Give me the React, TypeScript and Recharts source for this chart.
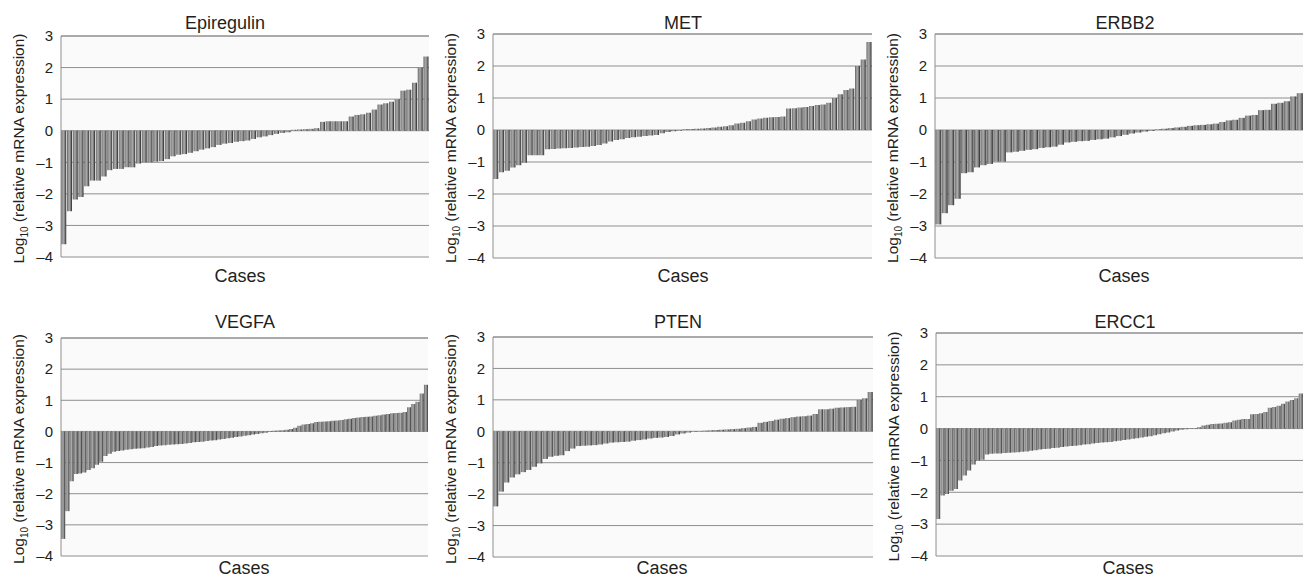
import React from 'react';
import { BarChart, Bar, XAxis, YAxis, CartesianGrid, ReferenceLine } from 'recharts';

// log10 relative mRNA expression per case, sorted low to high
const yTicks = [-4, -3, -2, -1, 0, 1, 2, 3];

const epiregulin = [
  -3.6, -2.55, -2.18, -2.1, -1.76, -1.58, -1.58, -1.45, -1.25, -1.21, -1.21, -1.16, -1.16, -1.04, -1.0, -1.0,
  -0.98, -0.96, -0.9, -0.81, -0.76, -0.74, -0.7, -0.65, -0.6, -0.56, -0.52, -0.45, -0.41, -0.39, -0.35, -0.33,
  -0.31, -0.26, -0.21, -0.18, -0.14, -0.1, -0.07, -0.05,
  0.03, 0.04, 0.05, 0.06, 0.08, 0.28, 0.3, 0.3, 0.3, 0.3, 0.45, 0.5, 0.52, 0.57, 0.67, 0.83, 0.87, 0.92, 1.0,
  1.27, 1.3, 1.52, 2.0, 2.35,
];

const met = [
  -1.53, -1.32, -1.27, -1.17, -1.1, -1.02, -0.79, -0.79, -0.79, -0.6, -0.59, -0.58, -0.57, -0.56, -0.55, -0.53,
  -0.52, -0.5, -0.47, -0.42, -0.36, -0.31, -0.29, -0.25, -0.23, -0.21, -0.19, -0.17, -0.16, -0.1, -0.06, -0.04,
  -0.02,
  0.02, 0.03, 0.04, 0.05, 0.06, 0.08, 0.1, 0.12, 0.15, 0.2, 0.23, 0.27, 0.33, 0.36, 0.38, 0.4, 0.41, 0.42, 0.67,
  0.68, 0.7, 0.72, 0.75, 0.78, 0.8, 0.85, 1.0, 1.12, 1.25, 1.3, 2.0, 2.2, 2.75,
];

const erbb2 = [
  -2.95, -2.6, -2.35, -2.15, -1.35, -1.32, -1.17, -1.1, -1.06, -0.99, -0.99, -0.7, -0.68, -0.65, -0.62, -0.6,
  -0.56, -0.54, -0.52, -0.46, -0.39, -0.37, -0.35, -0.34, -0.31, -0.29, -0.27, -0.23, -0.19, -0.15, -0.11, -0.08,
  -0.05, -0.03,
  0.02, 0.04, 0.06, 0.08, 0.1, 0.13, 0.15, 0.16, 0.18, 0.2, 0.25, 0.3, 0.32, 0.38, 0.45, 0.47, 0.62, 0.63, 0.82,
  0.85, 0.9, 1.05, 1.15,
];

const vegfa = [
  -3.45, -2.56, -1.6, -1.37, -1.35, -1.32, -1.24, -1.18, -1.07, -0.97, -0.79, -0.72, -0.65, -0.63, -0.61, -0.59,
  -0.57, -0.56, -0.55, -0.54, -0.52, -0.5, -0.47, -0.45, -0.44, -0.43, -0.42, -0.41, -0.4, -0.39, -0.37, -0.35,
  -0.34, -0.33, -0.31, -0.29, -0.28, -0.26, -0.24, -0.22, -0.2, -0.18, -0.16, -0.14, -0.12, -0.1, -0.08, -0.06,
  -0.04, -0.02,
  0.02, 0.03, 0.04, 0.05, 0.08, 0.12, 0.18, 0.22, 0.24, 0.26, 0.3, 0.31, 0.32, 0.33, 0.34, 0.35, 0.37, 0.39, 0.41,
  0.43, 0.45, 0.46, 0.47, 0.48, 0.5, 0.52, 0.54, 0.56, 0.58, 0.59, 0.6, 0.62, 0.78, 0.88, 0.95, 1.22, 1.5,
];

const pten = [
  -2.39, -1.92, -1.63, -1.47, -1.37, -1.3, -1.23, -1.13, -1.02, -0.88, -0.81, -0.78, -0.76, -0.63, -0.55, -0.47,
  -0.46, -0.45, -0.44, -0.42, -0.39, -0.36, -0.35, -0.34, -0.33, -0.3, -0.28, -0.26, -0.23, -0.21, -0.2, -0.18,
  -0.15, -0.1, -0.07, -0.04, -0.02,
  0.01, 0.02, 0.03, 0.04, 0.05, 0.06, 0.07, 0.08, 0.1, 0.12, 0.14, 0.27, 0.3, 0.33, 0.37, 0.4, 0.42, 0.45, 0.47,
  0.48, 0.5, 0.55, 0.7, 0.7, 0.72, 0.75, 0.76, 0.77, 0.78, 1.0, 1.05, 1.25,
];

const ercc1 = [
  -2.84, -2.1, -2.05, -1.95, -1.9, -1.63, -1.47, -1.32, -1.13, -1.0, -0.98, -0.81, -0.79, -0.78, -0.78, -0.77,
  -0.76, -0.75, -0.74, -0.73, -0.72, -0.7, -0.68, -0.66, -0.64, -0.63, -0.61, -0.6, -0.58, -0.56, -0.55, -0.54,
  -0.52, -0.5, -0.49, -0.47, -0.45, -0.44, -0.43, -0.42, -0.4, -0.38, -0.36, -0.34, -0.32, -0.3, -0.28, -0.26,
  -0.24, -0.21, -0.18, -0.15, -0.12, -0.09, -0.06, -0.04, -0.02,
  0.01, 0.02, 0.04, 0.1, 0.12, 0.14, 0.15, 0.16, 0.18, 0.2, 0.25, 0.28, 0.3, 0.3, 0.45, 0.46, 0.48, 0.52, 0.65,
  0.68, 0.72, 0.78, 0.85, 0.9, 0.95, 1.1,
];

const FONT = '"Liberation Sans", Arial, sans-serif';
const TEXT = '#231f20';
const GRID = '#8e8e8e';

// plot-area boxes in page pixels
const panels = [
  { id: 'epi', title: 'Epiregulin', values: epiregulin, x: 61, y: 36, w: 368, h: 221, titleX: 225, casesX: 240 },
  { id: 'met', title: 'MET', values: met, x: 493, y: 34, w: 379, h: 224, titleX: 683, casesX: 683 },
  { id: 'erbb2', title: 'ERBB2', values: erbb2, x: 935, y: 34, w: 368, h: 224, titleX: 1125, casesX: 1124 },
  { id: 'vegfa', title: 'VEGFA', values: vegfa, x: 61, y: 338, w: 367, h: 218, titleX: 245, casesX: 244 },
  { id: 'pten', title: 'PTEN', values: pten, x: 493, y: 337, w: 380, h: 220, titleX: 678, casesX: 662 },
  { id: 'ercc1', title: 'ERCC1', values: ercc1, x: 936, y: 333, w: 367, h: 223, titleX: 1125, casesX: 1128 },
];

const fmt = (v: number) => (v < 0 ? '\u2013' + Math.abs(v) : String(v));

const YLabel = (props: any) => {
  const vb = props.viewBox;
  const cx = vb.x + vb.width - 37;
  const cy = vb.y + vb.height / 2 + 2;
  return (
    <text
      x={cx}
      y={cy}
      transform={`rotate(-90 ${cx} ${cy})`}
      textAnchor="middle"
      fontFamily={FONT}
      fontSize={15.5}
      fill={TEXT}
    >
      Log
      <tspan fontSize={10} dy={4}>10</tspan>
      <tspan dy={-4}> (relative mRNA expression)</tspan>
    </text>
  );
};

const Panel = ({ p }: { p: (typeof panels)[number] }) => {
  const data = p.values.map((v, i) => ({ i, v }));
  const gid = `grad-${p.id}`;
  return (
    <div style={{ position: 'absolute', left: p.x - 61, top: p.y - 36 }}>
      <BarChart
        width={p.w + 62}
        height={p.h + 72}
        data={data}
        margin={{ top: 36, right: 1, bottom: 36, left: 1 }}
        barCategoryGap="4%"
      >
        <defs>
          <linearGradient id={gid} x1="0" y1="0" x2="1" y2="0">
            <stop offset="0%" stopColor="#5c5c5c" />
            <stop offset="20%" stopColor="#8e8e8e" />
            <stop offset="48%" stopColor="#a9a9a9" />
            <stop offset="78%" stopColor="#6e6e6e" />
            <stop offset="100%" stopColor="#242424" />
          </linearGradient>
        </defs>
        <CartesianGrid vertical={false} stroke={GRID} fill="#fafafa" />
        <XAxis dataKey="i" hide />
        <YAxis
          domain={[-4, 3]}
          ticks={yTicks}
          interval={0}
          allowDataOverflow
          width={60}
          tickLine={false}
          tickSize={6}
          tickMargin={2}
          tickFormatter={fmt}
          axisLine={{ stroke: GRID }}
          tick={{ fill: TEXT, fontSize: 15, fontFamily: FONT }}
          label={{ content: YLabel }}
        />
        <YAxis
          yAxisId="r"
          orientation="right"
          domain={[-4, 3]}
          ticks={yTicks}
          width={0}
          tick={false}
          tickLine={false}
          axisLine={{ stroke: GRID }}
        />
        <ReferenceLine y={3} stroke={GRID} />
        <Bar dataKey="v" fill={`url(#${gid})`} isAnimationActive={false} />
      </BarChart>
    </div>
  );
};

export default function App() {
  return (
    <div
      style={{
        position: 'absolute',
        left: 0,
        top: 0,
        width: 1304,
        height: 579,
        background: '#fff',
        overflow: 'hidden',
      }}
    >
      <svg width={1304} height={579} style={{ position: 'absolute', left: 0, top: 0 }}>
        {panels.map((p) => {
          const top = p.y < 200;
          return (
            <g key={p.id} fontFamily={FONT} fill={TEXT} fontSize={18} textAnchor="middle">
              <text x={p.titleX} y={top ? 29 : 328}>{p.title}</text>
              <text x={p.casesX} y={top ? 282 : 574}>Cases</text>
            </g>
          );
        })}
      </svg>
      {panels.map((p) => (
        <Panel key={p.id} p={p} />
      ))}
    </div>
  );
}
